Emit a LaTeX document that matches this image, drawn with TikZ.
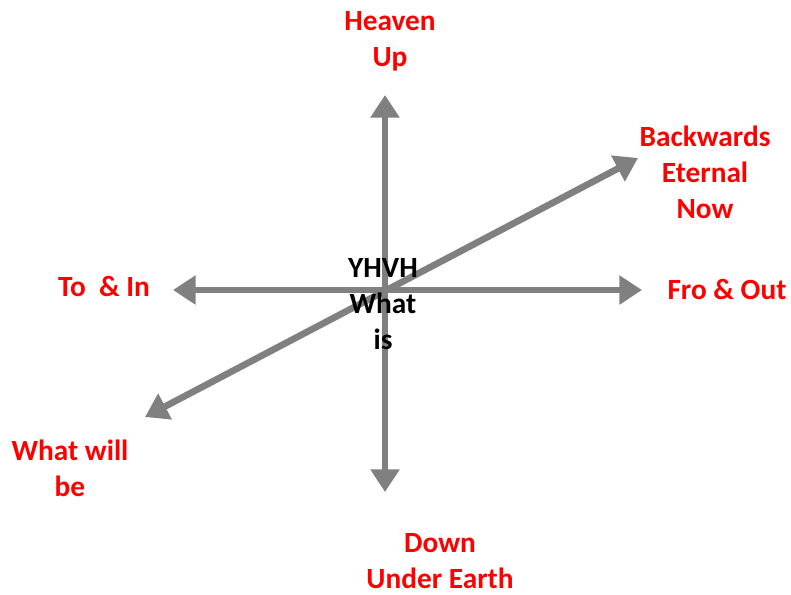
\documentclass[tikz,border=0pt]{standalone}
\usepackage{fontspec}
\setmainfont{Carlito}
\usetikzlibrary{arrows.meta}
\definecolor{axisgray}{RGB}{128,128,128}
\definecolor{labelred}{RGB}{255,0,0}

\begin{document}
\begin{tikzpicture}[x=0.75pt, y=-0.75pt,
    axis/.style={draw=axisgray, line width=5pt, {Triangle[width=21pt,length=17pt]}-{Triangle[width=21pt,length=17pt]}},
    lbl/.style={text=labelred, font=\fontsize{22}{27}\selectfont\bfseries, align=center, inner sep=0pt}]
        \useasboundingbox (0,0) rectangle (791,594);

        % arrow ends
        \coordinate (top) at (385,95);
        \coordinate (bottom) at (385,492);
        \coordinate (left) at (173,290);
        \coordinate (right) at (642,290);
        \coordinate (past) at (145,417);
        \coordinate (future) at (638,158);

        \draw[axis] (bottom) -- (top);
        \draw[axis] (left) -- (right);
        \draw[axis] (past) -- (future);

        \node[lbl] (heaven) at (390,41) {Heaven\\Up};
        \node[lbl] (backwards) at (705,172) {Backwards\\Eternal\\Now};
        \node[lbl] (toin) at (104,286) {To~\ \& In};
        \node[lbl] (froout) at (727,289) {Fro \& Out};
        \node[lbl] (whatwill) at (70,468) {What will\\be};
        \node[lbl] (down) at (440,561) {Down\\Under Earth};
        \node[lbl, text=black] (yhvh) at (383,304) {YHVH\\What\\is};
      \end{tikzpicture}
\end{document}
